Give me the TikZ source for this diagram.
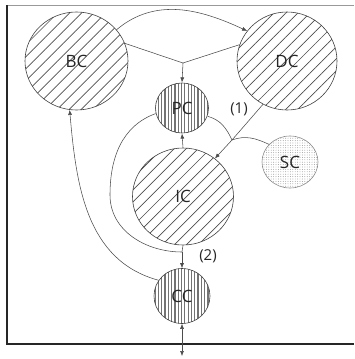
\documentclass[tikz,border=0pt]{standalone}
\usepackage{fontspec}
\setmainfont{Open Sans}
\usetikzlibrary{patterns.meta,arrows.meta,shapes.geometric}
\begin{document}
\begin{tikzpicture}[x=1pt,y=-1pt,
  ring/.style={ellipse, draw=black!75, line width=0.6pt, inner sep=0pt,
    font=\fontsize{17}{17}\selectfont, text=black!85},
  hatchd/.style={pattern={Lines[angle=45,distance=8.5pt,line width=0.7pt]}, pattern color=black!70},
  hatchv/.style={pattern={Lines[angle=90,distance=3.3pt,line width=1.2pt]}, pattern color=black!55},
  stipple/.style={pattern={Dots[radius=0.45pt,distance=2.4pt]}, pattern color=black!45},
  conn/.style={draw=black!70, line width=0.55pt},
  conna/.style={conn, -{Latex[length=5pt,width=4pt]}},
  connb/.style={conn, {Latex[length=5pt,width=4pt]}-{Latex[length=5pt,width=4pt]}},
  lbl/.style={font=\fontsize{15}{15}\selectfont, text=black!85}]
\useasboundingbox (0,0) rectangle (354,359);
% frame
\draw[black!40, line width=0.6pt] (7,5) -- (354,5);
\draw[black!85, line width=1.4pt] (7,5) -- (7,344) -- (354,344);
% circles
\node[ring, hatchd, minimum width=103pt, minimum height=98pt] (BC) at (76.5,61) {BC};
\node[ring, hatchd, minimum width=100pt, minimum height=98pt] (DC) at (287,61) {DC};
\node[ring, hatchv, minimum width=53pt, minimum height=50pt] (PC) at (182,108) {PC};
\node[ring, hatchd, minimum width=101pt, minimum height=97pt] (IC) at (183,196.5) {IC};
\node[ring, stipple, draw=black!45, minimum width=56pt, minimum height=52pt] (SC) at (290,162) {SC};
\node[ring, hatchv, minimum width=56pt, minimum height=55pt] (CC) at (182,296) {CC};
% labels
\node[lbl] (L1) at (239,109) {(1)};
\node[lbl] (L2) at (208,256) {(2)};
% helper coordinates
\coordinate (J) at (183,63);
\coordinate (M) at (232,140);
\coordinate (W) at (110,195);
\coordinate (K) at (182,252);
\coordinate (OUT) at (182,356);
% connectors
\draw[conna] (BC.38) to[out=40,in=155] (DC.143);
\draw[conn] (BC.20) -- (J);
\draw[conn] (DC.161) -- (J);
\draw[conna] (J) -- (PC.north);
\draw[conna] (IC.north) -- (PC.south);
\draw[conn] (DC.241) -- (M);
\draw[conna] (M) -- (IC.50);
\draw[conn] (PC.-18) to[out=-15,in=115] (M);
\draw[conn] (SC.140) to[out=155,in=20] (M);
\draw[conn] (PC.192) to[out=200,in=90] (W) to[out=-90,in=180] (K);
\draw[conn] (IC.south) -- (K);
\draw[conna] (K) -- (CC.north);
\draw[conna] (CC.146) to[out=165,in=-85] (BC.262);
\draw[connb] (CC.south) -- (OUT);
\end{tikzpicture}
\end{document}
